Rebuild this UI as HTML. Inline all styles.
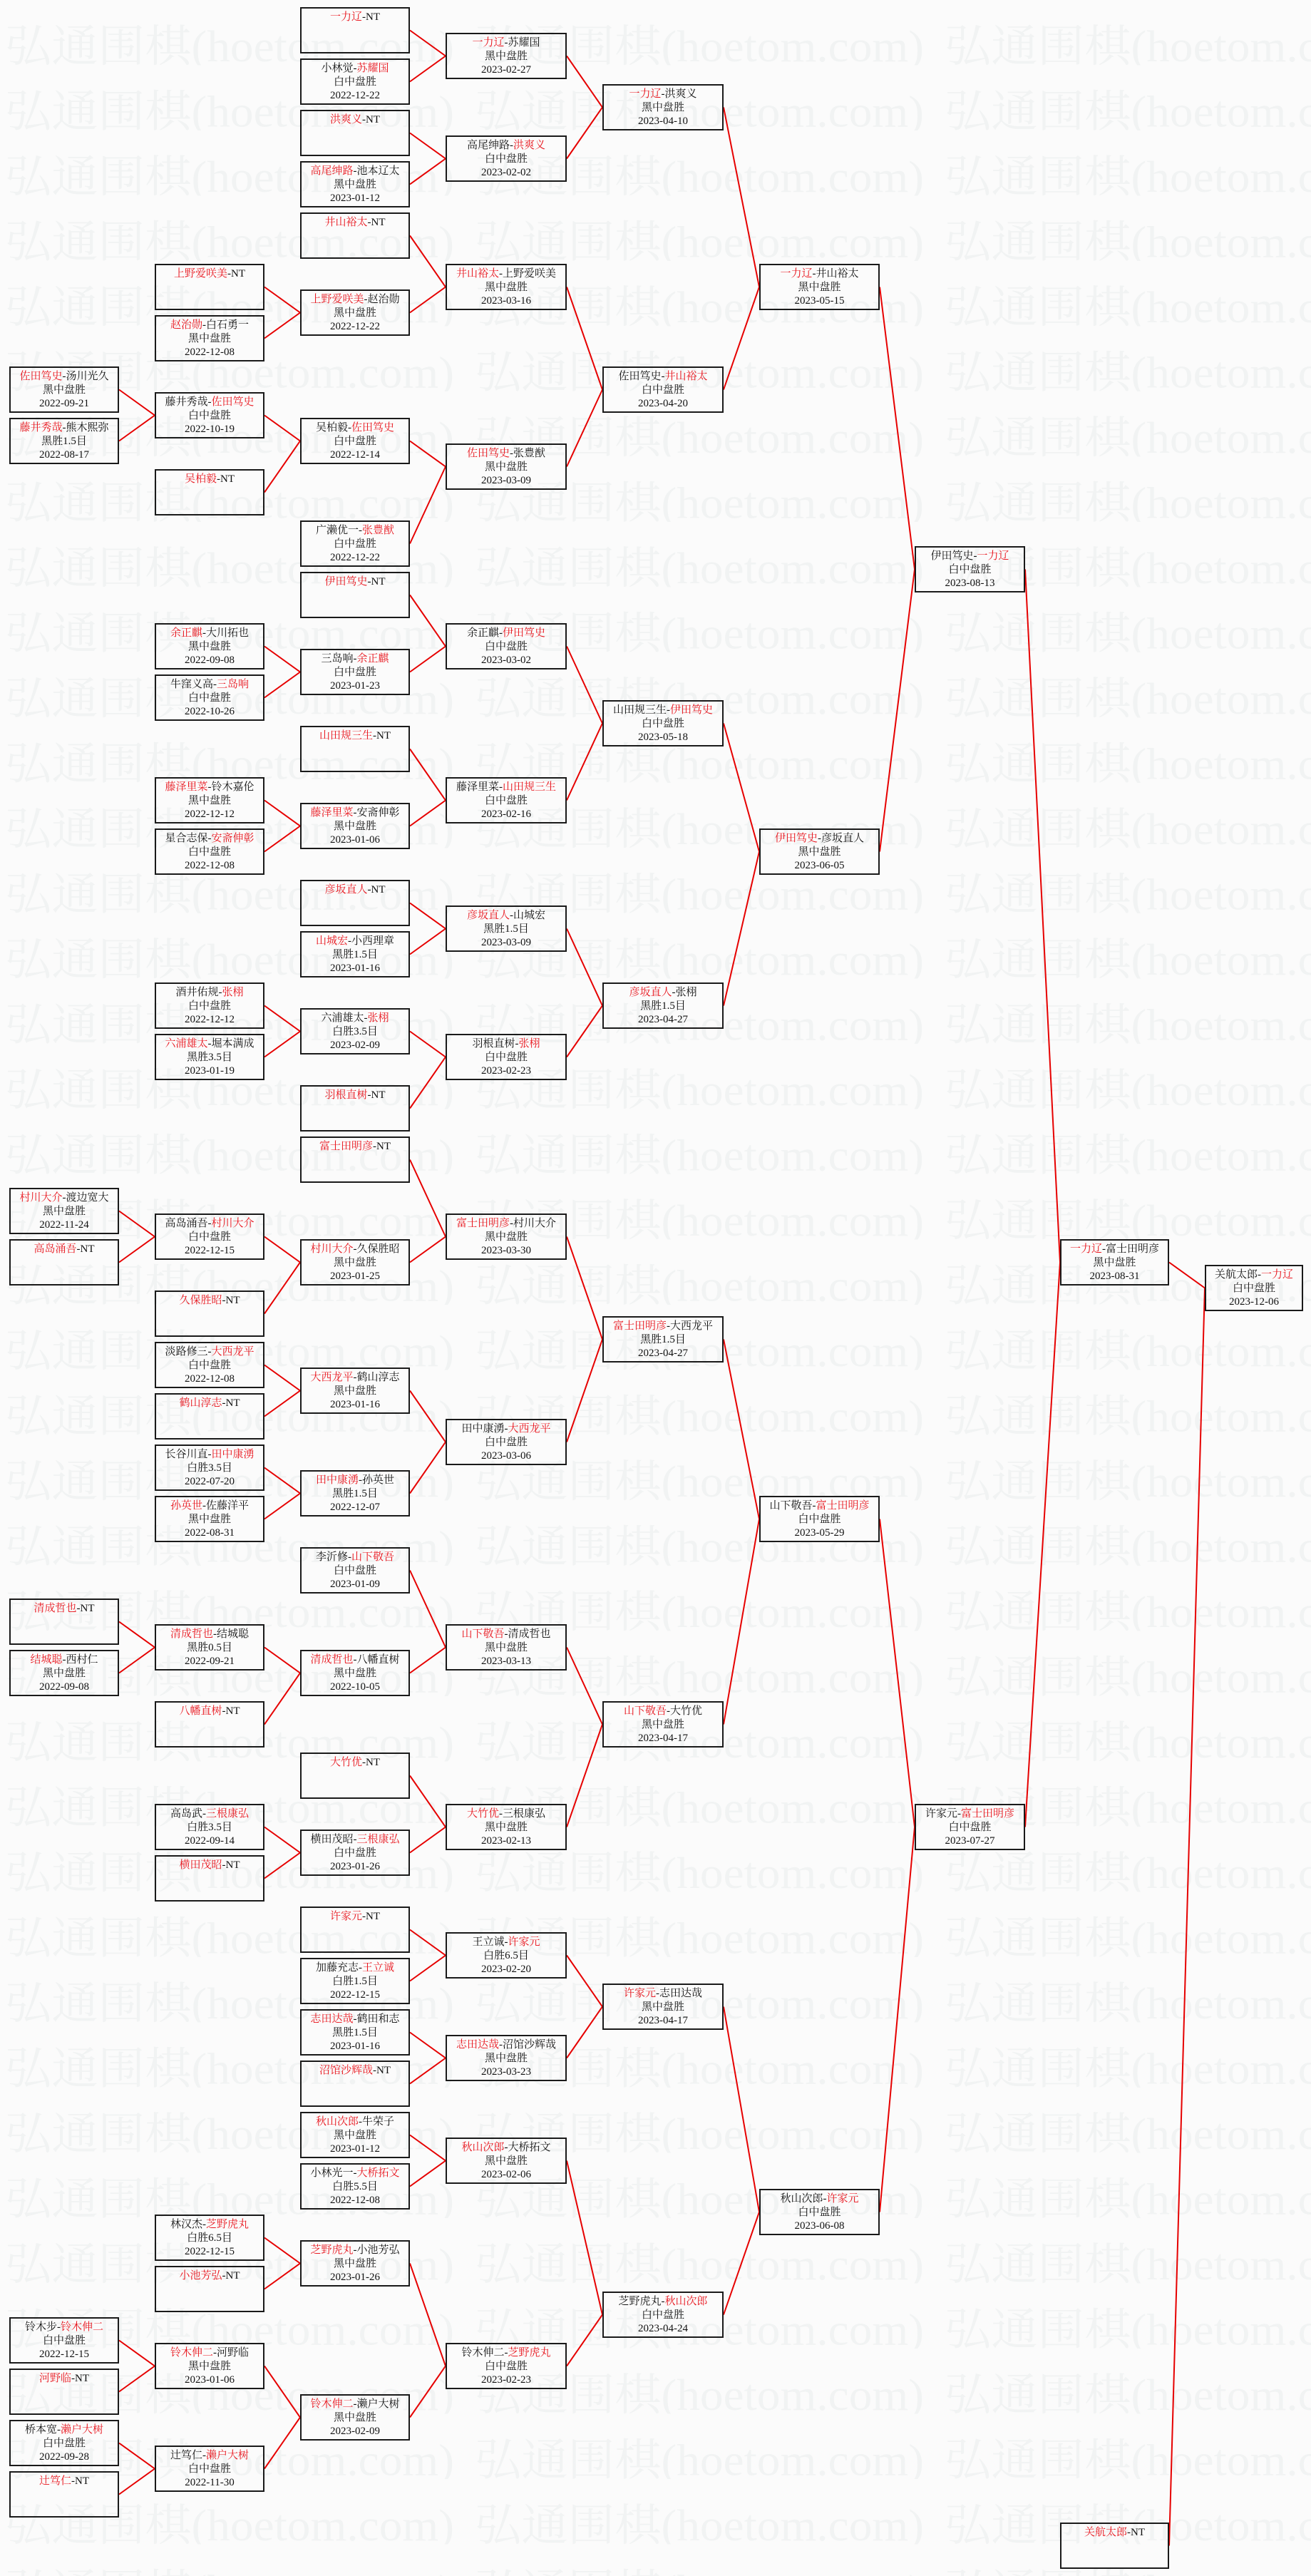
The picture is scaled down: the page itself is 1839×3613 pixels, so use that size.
<!DOCTYPE html>
<html><head><meta charset="utf-8">
<style>
html,body{margin:0;padding:0}
body{width:1839px;height:3613px;position:relative;background:#fbfbfb;overflow:hidden}
.b{position:absolute;box-sizing:border-box;height:65px;border:2px solid #1a1a1a;text-align:center;font:15px/19px "Liberation Serif","Noto Serif CJK SC",serif;padding-top:3px;color:#111;white-space:nowrap}
.b i{font-style:normal;color:#e8141c}
.c0{left:13px;width:154px}.c1{left:217px;width:154px}.c2{left:421px;width:154px}
.c3{left:625px;width:170px}.c4{left:845px;width:170px}.c5{left:1065px;width:169px}
.c6{left:1283px;width:155px}.c7{left:1487px;width:153px}.c8{left:1690px;width:138px}
svg{position:absolute;left:0;top:0}
</style></head><body>
<svg width="1839" height="3613">
<defs><pattern id="wm" patternUnits="userSpaceOnUse" x="0" y="0" width="659" height="91.5">
<text x="7" y="86" font-family="Liberation Serif, Noto Serif CJK SC, serif" font-size="62" fill="#f1f3f3" textLength="630" lengthAdjust="spacingAndGlyphs">弘通围棋(hoetom.com)</text>
</pattern></defs>
<rect width="1839" height="3613" fill="url(#wm)"/>
<g fill="none" stroke="#e60000" stroke-width="2">
<path d="M167 546.5L217 582.5L167 618.5M167 1698.5L217 1734.5L167 1770.5M167 2274.5L217 2310.5L167 2346.5M167 3282.5L217 3318.5L167 3354.5M167 3426.5L217 3462.5L167 3498.5"/>
<path d="M371 402.5L421 438.5L371 474.5M371 582.5L421 618.5L371 690.5M371 906.5L421 942.5L371 978.5M371 1122.5L421 1158.5L371 1194.5M371 1410.5L421 1446.5L371 1482.5M371 1734.5L421 1770.5L371 1842.5M371 1914.5L421 1950.5L371 1986.5M371 2058.5L421 2094.5L371 2130.5M371 2310.5L421 2346.5L371 2418.5M371 2562.5L421 2598.5L371 2634.5M371 3138.5L421 3174.5L371 3210.5M371 3318.5L421 3390.5L371 3462.5"/>
<path d="M575 42.5L625 78.5L575 114.5M575 186.5L625 222.5L575 258.5M575 330.5L625 402.5L575 438.5M575 618.5L625 654.5L575 762.5M575 834.5L625 906.5L575 942.5M575 1050.5L625 1122.5L575 1158.5M575 1266.5L625 1302.5L575 1338.5M575 1446.5L625 1482.5L575 1554.5M575 1626.5L625 1734.5L575 1770.5M575 1950.5L625 2022.5L575 2094.5M575 2202.5L625 2310.5L575 2346.5M575 2490.5L625 2562.5L575 2598.5M575 2706.5L625 2742.5L575 2778.5M575 2850.5L625 2886.5L575 2922.5M575 2994.5L625 3030.5L575 3066.5M575 3174.5L625 3318.5L575 3390.5"/>
<path d="M795 78.5L845 150.5L795 222.5M795 402.5L845 546.5L795 654.5M795 906.5L845 1014.5L795 1122.5M795 1302.5L845 1410.5L795 1482.5M795 1734.5L845 1878.5L795 2022.5M795 2310.5L845 2418.5L795 2562.5M795 2742.5L845 2814.5L795 2886.5M795 3030.5L845 3246.5L795 3318.5"/>
<path d="M1015 150.5L1065 402.5L1015 546.5M1015 1014.5L1065 1194.5L1015 1410.5M1015 1878.5L1065 2130.5L1015 2418.5M1015 2814.5L1065 3102.5L1015 3246.5"/>
<path d="M1234 402.5L1283 798.5L1234 1194.5M1234 2130.5L1283 2562.5L1234 3102.5"/>
<path d="M1438 798.5L1487 1770.5L1438 2562.5"/>
<path d="M1640 1770.5L1690 1806.5L1640 3570.5"/>
</g>
</svg>

<!-- col0 -->
<div class="b c0" style="top:514px"><i>佐田笃史</i>-汤川光久<br>黑中盘胜<br>2022-09-21</div>
<div class="b c0" style="top:586px"><i>藤井秀哉</i>-熊木熙弥<br>黑胜1.5目<br>2022-08-17</div>
<div class="b c0" style="top:1666px"><i>村川大介</i>-渡边宽大<br>黑中盘胜<br>2022-11-24</div>
<div class="b c0" style="top:1738px"><i>高岛涌吾</i>-NT</div>
<div class="b c0" style="top:2242px"><i>清成哲也</i>-NT</div>
<div class="b c0" style="top:2314px"><i>结城聪</i>-西村仁<br>黑中盘胜<br>2022-09-08</div>
<div class="b c0" style="top:3250px">铃木步-<i>铃木伸二</i><br>白中盘胜<br>2022-12-15</div>
<div class="b c0" style="top:3322px"><i>河野临</i>-NT</div>
<div class="b c0" style="top:3394px">桥本宽-<i>濑户大树</i><br>白中盘胜<br>2022-09-28</div>
<div class="b c0" style="top:3466px"><i>辻笃仁</i>-NT</div>

<!-- col1 -->
<div class="b c1" style="top:370px"><i>上野爱咲美</i>-NT</div>
<div class="b c1" style="top:442px"><i>赵治勋</i>-白石勇一<br>黑中盘胜<br>2022-12-08</div>
<div class="b c1" style="top:550px">藤井秀哉-<i>佐田笃史</i><br>白中盘胜<br>2022-10-19</div>
<div class="b c1" style="top:658px"><i>吴柏毅</i>-NT</div>
<div class="b c1" style="top:874px"><i>余正麒</i>-大川拓也<br>黑中盘胜<br>2022-09-08</div>
<div class="b c1" style="top:946px">牛窪义高-<i>三岛响</i><br>白中盘胜<br>2022-10-26</div>
<div class="b c1" style="top:1090px"><i>藤泽里菜</i>-铃木嘉伦<br>黑中盘胜<br>2022-12-12</div>
<div class="b c1" style="top:1162px">星合志保-<i>安斋伸彰</i><br>白中盘胜<br>2022-12-08</div>
<div class="b c1" style="top:1378px">酒井佑规-<i>张栩</i><br>白中盘胜<br>2022-12-12</div>
<div class="b c1" style="top:1450px"><i>六浦雄太</i>-堀本满成<br>黑胜3.5目<br>2023-01-19</div>
<div class="b c1" style="top:1702px">高岛涌吾-<i>村川大介</i><br>白中盘胜<br>2022-12-15</div>
<div class="b c1" style="top:1810px"><i>久保胜昭</i>-NT</div>
<div class="b c1" style="top:1882px">淡路修三-<i>大西龙平</i><br>白中盘胜<br>2022-12-08</div>
<div class="b c1" style="top:1954px"><i>鹤山淳志</i>-NT</div>
<div class="b c1" style="top:2026px">长谷川直-<i>田中康湧</i><br>白胜3.5目<br>2022-07-20</div>
<div class="b c1" style="top:2098px"><i>孙英世</i>-佐藤洋平<br>黑中盘胜<br>2022-08-31</div>
<div class="b c1" style="top:2278px"><i>清成哲也</i>-结城聪<br>黑胜0.5目<br>2022-09-21</div>
<div class="b c1" style="top:2386px"><i>八幡直树</i>-NT</div>
<div class="b c1" style="top:2530px">高岛武-<i>三根康弘</i><br>白胜3.5目<br>2022-09-14</div>
<div class="b c1" style="top:2602px"><i>横田茂昭</i>-NT</div>
<div class="b c1" style="top:3106px">林汉杰-<i>芝野虎丸</i><br>白胜6.5目<br>2022-12-15</div>
<div class="b c1" style="top:3178px"><i>小池芳弘</i>-NT</div>
<div class="b c1" style="top:3286px"><i>铃木伸二</i>-河野临<br>黑中盘胜<br>2023-01-06</div>
<div class="b c1" style="top:3430px">辻笃仁-<i>濑户大树</i><br>白中盘胜<br>2022-11-30</div>

<!-- col2 -->
<div class="b c2" style="top:10px"><i>一力辽</i>-NT</div>
<div class="b c2" style="top:82px">小林觉-<i>苏耀国</i><br>白中盘胜<br>2022-12-22</div>
<div class="b c2" style="top:154px"><i>洪爽义</i>-NT</div>
<div class="b c2" style="top:226px"><i>高尾绅路</i>-池本辽太<br>黑中盘胜<br>2023-01-12</div>
<div class="b c2" style="top:298px"><i>井山裕太</i>-NT</div>
<div class="b c2" style="top:406px"><i>上野爱咲美</i>-赵治勋<br>黑中盘胜<br>2022-12-22</div>
<div class="b c2" style="top:586px">吴柏毅-<i>佐田笃史</i><br>白中盘胜<br>2022-12-14</div>
<div class="b c2" style="top:730px">广濑优一-<i>张豊猷</i><br>白中盘胜<br>2022-12-22</div>
<div class="b c2" style="top:802px"><i>伊田笃史</i>-NT</div>
<div class="b c2" style="top:910px">三岛响-<i>余正麒</i><br>白中盘胜<br>2023-01-23</div>
<div class="b c2" style="top:1018px"><i>山田规三生</i>-NT</div>
<div class="b c2" style="top:1126px"><i>藤泽里菜</i>-安斋伸彰<br>黑中盘胜<br>2023-01-06</div>
<div class="b c2" style="top:1234px"><i>彦坂直人</i>-NT</div>
<div class="b c2" style="top:1306px"><i>山城宏</i>-小西理章<br>黑胜1.5目<br>2023-01-16</div>
<div class="b c2" style="top:1414px">六浦雄太-<i>张栩</i><br>白胜3.5目<br>2023-02-09</div>
<div class="b c2" style="top:1522px"><i>羽根直树</i>-NT</div>
<div class="b c2" style="top:1594px"><i>富士田明彦</i>-NT</div>
<div class="b c2" style="top:1738px"><i>村川大介</i>-久保胜昭<br>黑中盘胜<br>2023-01-25</div>
<div class="b c2" style="top:1918px"><i>大西龙平</i>-鹤山淳志<br>黑中盘胜<br>2023-01-16</div>
<div class="b c2" style="top:2062px"><i>田中康湧</i>-孙英世<br>黑胜1.5目<br>2022-12-07</div>
<div class="b c2" style="top:2170px">李沂修-<i>山下敬吾</i><br>白中盘胜<br>2023-01-09</div>
<div class="b c2" style="top:2314px"><i>清成哲也</i>-八幡直树<br>黑中盘胜<br>2022-10-05</div>
<div class="b c2" style="top:2458px"><i>大竹优</i>-NT</div>
<div class="b c2" style="top:2566px">横田茂昭-<i>三根康弘</i><br>白中盘胜<br>2023-01-26</div>
<div class="b c2" style="top:2674px"><i>许家元</i>-NT</div>
<div class="b c2" style="top:2746px">加藤充志-<i>王立诚</i><br>白胜1.5目<br>2022-12-15</div>
<div class="b c2" style="top:2818px"><i>志田达哉</i>-鹤田和志<br>黑胜1.5目<br>2023-01-16</div>
<div class="b c2" style="top:2890px"><i>沼馆沙辉哉</i>-NT</div>
<div class="b c2" style="top:2962px"><i>秋山次郎</i>-牛荣子<br>黑中盘胜<br>2023-01-12</div>
<div class="b c2" style="top:3034px">小林光一-<i>大桥拓文</i><br>白胜5.5目<br>2022-12-08</div>
<div class="b c2" style="top:3142px"><i>芝野虎丸</i>-小池芳弘<br>黑中盘胜<br>2023-01-26</div>
<div class="b c2" style="top:3358px"><i>铃木伸二</i>-濑户大树<br>黑中盘胜<br>2023-02-09</div>

<!-- col3 -->
<div class="b c3" style="top:46px"><i>一力辽</i>-苏耀国<br>黑中盘胜<br>2023-02-27</div>
<div class="b c3" style="top:190px">高尾绅路-<i>洪爽义</i><br>白中盘胜<br>2023-02-02</div>
<div class="b c3" style="top:370px"><i>井山裕太</i>-上野爱咲美<br>黑中盘胜<br>2023-03-16</div>
<div class="b c3" style="top:622px"><i>佐田笃史</i>-张豊猷<br>黑中盘胜<br>2023-03-09</div>
<div class="b c3" style="top:874px">余正麒-<i>伊田笃史</i><br>白中盘胜<br>2023-03-02</div>
<div class="b c3" style="top:1090px">藤泽里菜-<i>山田规三生</i><br>白中盘胜<br>2023-02-16</div>
<div class="b c3" style="top:1270px"><i>彦坂直人</i>-山城宏<br>黑胜1.5目<br>2023-03-09</div>
<div class="b c3" style="top:1450px">羽根直树-<i>张栩</i><br>白中盘胜<br>2023-02-23</div>
<div class="b c3" style="top:1702px"><i>富士田明彦</i>-村川大介<br>黑中盘胜<br>2023-03-30</div>
<div class="b c3" style="top:1990px">田中康湧-<i>大西龙平</i><br>白中盘胜<br>2023-03-06</div>
<div class="b c3" style="top:2278px"><i>山下敬吾</i>-清成哲也<br>黑中盘胜<br>2023-03-13</div>
<div class="b c3" style="top:2530px"><i>大竹优</i>-三根康弘<br>黑中盘胜<br>2023-02-13</div>
<div class="b c3" style="top:2710px">王立诚-<i>许家元</i><br>白胜6.5目<br>2023-02-20</div>
<div class="b c3" style="top:2854px"><i>志田达哉</i>-沼馆沙辉哉<br>黑中盘胜<br>2023-03-23</div>
<div class="b c3" style="top:2998px"><i>秋山次郎</i>-大桥拓文<br>黑中盘胜<br>2023-02-06</div>
<div class="b c3" style="top:3286px">铃木伸二-<i>芝野虎丸</i><br>白中盘胜<br>2023-02-23</div>

<!-- col4 -->
<div class="b c4" style="top:118px"><i>一力辽</i>-洪爽义<br>黑中盘胜<br>2023-04-10</div>
<div class="b c4" style="top:514px">佐田笃史-<i>井山裕太</i><br>白中盘胜<br>2023-04-20</div>
<div class="b c4" style="top:982px">山田规三生-<i>伊田笃史</i><br>白中盘胜<br>2023-05-18</div>
<div class="b c4" style="top:1378px"><i>彦坂直人</i>-张栩<br>黑胜1.5目<br>2023-04-27</div>
<div class="b c4" style="top:1846px"><i>富士田明彦</i>-大西龙平<br>黑胜1.5目<br>2023-04-27</div>
<div class="b c4" style="top:2386px"><i>山下敬吾</i>-大竹优<br>黑中盘胜<br>2023-04-17</div>
<div class="b c4" style="top:2782px"><i>许家元</i>-志田达哉<br>黑中盘胜<br>2023-04-17</div>
<div class="b c4" style="top:3214px">芝野虎丸-<i>秋山次郎</i><br>白中盘胜<br>2023-04-24</div>

<!-- col5 -->
<div class="b c5" style="top:370px"><i>一力辽</i>-井山裕太<br>黑中盘胜<br>2023-05-15</div>
<div class="b c5" style="top:1162px"><i>伊田笃史</i>-彦坂直人<br>黑中盘胜<br>2023-06-05</div>
<div class="b c5" style="top:2098px">山下敬吾-<i>富士田明彦</i><br>白中盘胜<br>2023-05-29</div>
<div class="b c5" style="top:3070px">秋山次郎-<i>许家元</i><br>白中盘胜<br>2023-06-08</div>

<!-- col6 -->
<div class="b c6" style="top:766px">伊田笃史-<i>一力辽</i><br>白中盘胜<br>2023-08-13</div>
<div class="b c6" style="top:2530px">许家元-<i>富士田明彦</i><br>白中盘胜<br>2023-07-27</div>

<!-- col7 -->
<div class="b c7" style="top:1738px"><i>一力辽</i>-富士田明彦<br>黑中盘胜<br>2023-08-31</div>
<div class="b c7" style="top:3538px"><i>关航太郎</i>-NT</div>

<!-- col8 -->
<div class="b c8" style="top:1774px">关航太郎-<i>一力辽</i><br>白中盘胜<br>2023-12-06</div>
</body></html>
